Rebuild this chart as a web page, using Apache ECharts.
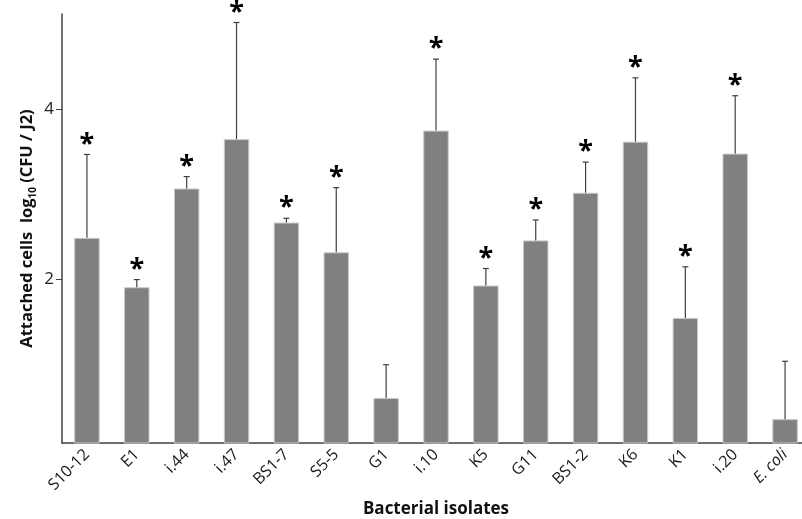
<!DOCTYPE html>
<html>
<head>
<meta charset="utf-8">
<script src="https://cdn.jsdelivr.net/npm/echarts@6/dist/echarts.min.js"></script>
<style>
  html, body { margin: 0; padding: 0; background: #fff; }
  #chart { width: 802px; height: 519px; }
</style>
</head>
<body>
<div id="chart"></div>
<script>
// isolates on the x axis
var isolates = ['S10-12', 'E1', 'i.44', 'i.47', 'BS1-7', 'S5-5', 'G1', 'i.10', 'K5', 'G11', 'BS1-2', 'K6', 'K1', 'i.20', 'E. coli'];
// mean attached cells, log10 (CFU / J2)
var meanCells = [2.49, 1.91, 3.07, 3.65, 2.67, 2.32, 0.61, 3.75, 1.93, 2.46, 3.02, 3.62, 1.55, 3.48, 0.36];
// top of the error bar (mean + SD)
var upperCells = [3.47, 2.00, 3.21, 5.02, 2.72, 3.08, 1.00, 4.59, 2.13, 2.70, 3.38, 4.37, 2.15, 4.16, 1.04];
// 1 = significant (asterisk)
var significant = [1, 1, 1, 1, 1, 1, 0, 1, 1, 1, 1, 1, 1, 1, 0];
var yTicks = [2, 4];

var chart = echarts.init(document.getElementById('chart'));
var font = "'Open Sans', 'DejaVu Sans', sans-serif";

var errData = isolates.map(function (name, i) {
    return [i, meanCells[i], upperCells[i], significant[i]];
});

function renderError(params, api) {
    var base = api.coord([api.value(0), api.value(1)]);
    var top = api.coord([api.value(0), api.value(2)]);
    var cap = 3;
    var children = [
        {
            type: 'line',
            shape: {x1: base[0], y1: base[1], x2: top[0], y2: top[1]},
            style: {stroke: '#404040', lineWidth: 1.2}
        },
        {
            type: 'line',
            shape: {x1: top[0] - cap, y1: top[1], x2: top[0] + cap, y2: top[1]},
            style: {stroke: '#404040', lineWidth: 1.2}
        }
    ];
    if (api.value(3) === 1) {
        children.push({
            type: 'text',
            x: top[0],
            y: top[1] + 3,
            style: {
                text: '*',
                fontSize: 27,
                fontWeight: 'bold',
                fontFamily: font,
                fill: '#000',
                align: 'center',
                verticalAlign: 'bottom'
            }
        });
    }
    return {type: 'group', children: children};
}

var option = {
    animation: false,
    grid: {
        left: 62,
        right: -8,
        top: 14,
        bottom: 76,
        outerBoundsMode: 'none'
    },
    xAxis: {
        type: 'category',
        data: isolates,
        name: 'Bacterial isolates',
        nameLocation: 'middle',
        nameGap: 58,
        nameTextStyle: {
            fontFamily: font,
            fontSize: 17,
            fontWeight: 'bold',
            color: '#111'
        },
        axisLine: {lineStyle: {color: '#404040', width: 1.5}},
        axisTick: {show: false},
        axisLabel: {
            rotate: 45,
            margin: 9,
            interval: 0,
            fontFamily: font,
            fontSize: 16,
            color: '#1a1a1a',
            formatter: function (v) {
                return v === 'E. coli' ? '{i|' + v + '}' : v;
            },
            rich: {
                i: {fontStyle: 'italic', fontFamily: font, fontSize: 16, color: '#1a1a1a'}
            }
        }
    },
    yAxis: {
        type: 'value',
        min: 0.08,
        max: 5.12,
        name: '{b|Attached cells  log}{s|10}{b| (CFU / J2)}',
        nameLocation: 'middle',
        nameGap: 24,
        nameMoveOverlap: false,
        nameRotate: 90,
        nameTextStyle: {
            rich: {
                b: {fontFamily: font, fontSize: 16.5, fontWeight: 'bold', color: '#111', lineHeight: 22, verticalAlign: 'middle'},
                s: {fontFamily: font, fontSize: 10, fontWeight: 'bold', color: '#111', lineHeight: 22, verticalAlign: 'bottom', padding: [8, 0, 0, 0]}
            }
        },
        splitLine: {show: false},
        axisLine: {show: true, lineStyle: {color: '#404040', width: 1.5}},
        axisTick: {show: true, length: 6, customValues: yTicks, lineStyle: {color: '#404040'}},
        axisLabel: {
            customValues: yTicks,
            margin: 8,
            fontFamily: font,
            fontSize: 17,
            color: '#222'
        }
    },
    series: [
        {
            type: 'bar',
            data: meanCells,
            barCategoryGap: '49%',
            itemStyle: {color: '#808080', borderColor: '#c8c8c8', borderWidth: 1}
        },
        {
            type: 'custom',
            data: errData,
            renderItem: renderError,
            clip: false,
            z: 5
        }
    ]
};

chart.setOption(option);
</script>
</body>
</html>
